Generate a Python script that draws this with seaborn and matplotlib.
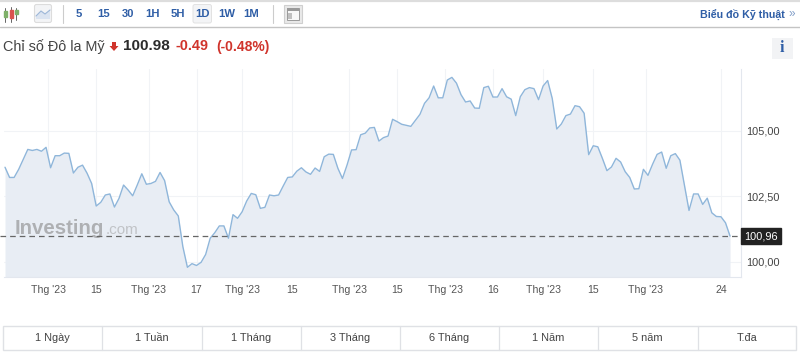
import matplotlib
matplotlib.use('Agg')
import pandas as pd
import seaborn as sns
import matplotlib.pyplot as plt
from matplotlib.patches import Rectangle, Polygon, FancyBboxPatch

# gia tri doc tu hinh
values = [
    103.60, 103.21, 103.21, 103.52, 103.90, 104.28, 104.24, 104.28, 104.21, 104.36,
    103.58, 104.04, 104.04, 104.14, 104.13, 103.38, 103.60, 103.68, 103.37, 102.98,
    102.12, 102.26, 102.54, 102.58, 102.08, 102.41, 102.92, 102.73, 102.51, 102.92,
    103.35, 102.95, 102.98, 103.06, 103.40, 103.09, 102.28, 101.97, 101.74, 100.57,
    99.78, 99.92, 99.85, 99.97, 100.27, 100.89, 101.10, 101.36, 101.36, 100.89,
    101.79, 101.65, 101.90, 102.31, 102.60, 102.55, 102.03, 102.07, 102.54,
    102.51, 102.54, 102.88, 103.21, 103.23, 103.45, 103.58, 103.42, 103.33, 103.57,
    103.44, 104.00, 104.10, 104.09, 103.56, 103.17, 103.68, 104.26, 104.27, 104.84,
    104.90, 105.10, 105.12, 104.60, 104.73, 104.79, 105.43, 105.34, 105.24, 105.20,
    105.16, 105.39, 105.62, 106.04, 106.25, 106.70, 106.25, 106.25, 106.93, 107.03,
    106.81, 106.37, 106.09, 106.13, 105.86, 105.85, 106.64, 106.69, 106.28, 106.28,
    106.60, 106.29, 106.20, 105.57, 106.29, 106.56, 106.64, 106.60, 106.18,
    106.70, 106.91, 106.23, 105.06, 105.25, 105.57, 105.63, 105.95, 105.91, 105.66,
    104.08, 104.42, 104.38, 103.94, 103.47, 103.61, 103.94, 103.80, 103.43, 103.21,
    102.77, 102.78, 103.52, 103.29, 103.71, 104.09, 104.18, 103.56, 104.04, 104.12,
    103.87, 102.92, 101.95, 102.58, 102.58, 102.18, 102.42, 101.86, 101.72, 101.71,
    101.48, 100.97,
]
last_price = 100.97
x_tick_pos = [9.5, 20, 31.5, 42, 52, 63, 75.5, 86, 96.5, 107, 118, 129, 140.5, 157]
x_tick_labels = ["Thg '23", '15', "Thg '23", '17', "Thg '23", '15', "Thg '23", '15',
                 "Thg '23", '16', "Thg '23", '15', "Thg '23", '24']
y_ticks = [100, 102.5, 105]
y_tick_labels = ['100,00', '102,50', '105,00']
intervals = ['5', '15', '30', '1H', '5H', '1D', '1W', '1M']
ranges = ['1 Ngày', '1 Tuần', '1 Tháng', '3 Tháng', '6 Tháng', '1 Năm', '5 năm', 'T.đa']

BLUE = '#2f5ea6'
GRID = '#f1f3f6'
TEXT = '#333333'
RED = '#d0342c'

sns.set_theme(style='white')
plt.rcParams['font.family'] = ['Liberation Sans', 'DejaVu Sans']

df = pd.DataFrame({'i': range(len(values)), 'price': values})

fig = plt.figure(figsize=(8, 3.54), dpi=100, facecolor='white')
ax = fig.add_axes([4 / 800, 1 - 277 / 354, 737 / 800, 208 / 354])
ax.set_xlim(-0.22, 161.4)
ax.set_ylim(99.41, 107.35)

ax.fill_between(df['i'], df['price'], 99.41, color='#e8edf4', lw=0, zorder=1)
sns.lineplot(data=df, x='i', y='price', ax=ax, color='#8fb6da', lw=1.0, zorder=3)

ax.set_xticks(x_tick_pos, x_tick_labels)
ax.yaxis.tick_right()
ax.set_yticks(y_ticks, y_tick_labels)
ax.set_xlabel('')
ax.set_ylabel('')
ax.grid(True, color=GRID, lw=0.8, zorder=0)
ax.set_axisbelow(True)
ax.tick_params(axis='x', length=2, width=0.7, color='#d8dde6', labelsize=7.6,
               labelcolor='#555555', pad=3.5)
ax.tick_params(axis='y', length=0, labelsize=7.9, labelcolor='#444444', pad=4)
for side in ['top', 'left']:
    ax.spines[side].set_visible(False)
for side in ['bottom', 'right']:
    ax.spines[side].set_color('#e3e7ee')
    ax.spines[side].set_linewidth(0.8)

# watermark
ax.text(0.0145, 0.235, 'Investing', transform=ax.transAxes, fontsize=14.7, fontweight='bold',
        color='#8b8b8b', alpha=0.62, va='center', zorder=4)
ax.text(0.1375, 0.225, '.com', transform=ax.transAxes, fontsize=11,
        color='#9a9a9a', alpha=0.5, va='center', zorder=4)

# khung giao dien, toa do pixel
ui = fig.add_axes([0, 0, 1, 1], facecolor='none', zorder=5)
ui.set_xlim(0, 800)
ui.set_ylim(354, 0)
ui.axis('off')

ui.plot([0, 741], [236, 236], color='#666666', lw=0.9, dashes=(4.5, 3.2), zorder=5)
ui.add_patch(Rectangle((741, 228), 40, 16, color='#222222', zorder=6))
ui.text(761, 236.3, '100,96', color='white', fontsize=7.9, ha='center', va='center', zorder=7)

# thanh cong cu
ui.plot([0, 800], [0.5, 0.5], color='#dddddd', lw=1.6)
ui.plot([0, 800], [27, 27], color='#c4c4c4', lw=1.0)
for x, col, top, bot, y0, y1 in [(5, '#7fb069', 8, 22, 11, 17), (11, '#d9534f', 7, 22, 10, 18),
                                 (16, '#7fb069', 8, 20, 10, 14)]:
    ui.plot([x, x], [top, bot], color='#666666', lw=0.7)
    ui.add_patch(Rectangle((x - 1.5, y0), 3, y1 - y0, color=col, zorder=3))
ui.add_patch(FancyBboxPatch((34.5, 4.5), 17, 18, boxstyle='round,pad=0,rounding_size=2',
                            fc='#f3f4f6', ec='#dcdcdc', lw=0.8))
ui.add_patch(Polygon([(36, 16), (41, 11), (45, 14), (50, 10), (50, 19), (36, 19)],
                     fc='#dbe4f1', ec='none', zorder=3))
ui.plot([36, 41, 45, 50], [16, 11, 14, 10], color='#9db7d8', lw=0.8, zorder=4)
ui.plot([62.5, 62.5], [5, 23], color='#cccccc', lw=0.8)
ui.plot([273, 273], [5, 23], color='#cccccc', lw=0.8)
ui.add_patch(FancyBboxPatch((193, 4.5), 18.5, 18.5, boxstyle='round,pad=0,rounding_size=2',
                            fc='#f3f4f6', ec='#e2e2e2', lw=0.7))
for label, x in zip(intervals, [79, 104, 128, 153, 178, 202, 227, 251]):
    ui.text(x, 14, label, color=BLUE, fontsize=8.1, fontweight='bold', ha='center', va='center',
            zorder=4)
ui.add_patch(Rectangle((284, 5), 17.5, 18, fc='#e9e9e9', ec='#cfcfcf', lw=0.8))
ui.add_patch(Rectangle((287, 8), 11.5, 12, fc='#f8f8f8', ec='#9a9a9a', lw=0.7, zorder=3))
ui.add_patch(Rectangle((287, 8), 11.5, 3, fc='#9a9a9a', ec='none', zorder=4))
ui.add_patch(Rectangle((288, 13), 4, 6, fc='#c0c0c0', ec='none', zorder=4))
ui.text(785, 14, 'Biểu đồ Kỹ thuật', color=BLUE, fontsize=7.7, fontweight='bold',
        ha='right', va='center')
ui.text(792, 14, '»', color='#7f9cc7', fontsize=8.5, ha='center', va='center')

# tieu de
ui.text(3, 46.5, 'Chỉ số Đô la Mỹ', color='#444444', fontsize=10.4, va='center')
ui.add_patch(Polygon([(112, 42), (116, 42), (116, 46), (118.5, 46), (114, 51), (109.5, 46), (112, 46)],
                     fc=RED, ec='none'))
ui.text(123, 46.5, '100.98', color='#2b2b2b', fontsize=11, fontweight='bold', va='center')
ui.text(176, 46.5, '-0.49', color=RED, fontsize=10.4, fontweight='bold', va='center')
ui.text(216, 46.5, '(-0.48%)', color=RED, fontsize=10, fontweight='bold', va='center')
ui.add_patch(Rectangle((772, 38), 21, 21, fc='#f2f3f5', ec='none'))
ui.text(782, 48.5, 'i', color=BLUE, fontsize=11.5, fontweight='bold', family='Liberation Serif',
        ha='center', va='center')

# nut khoang thoi gian
ui.add_patch(Rectangle((2.5, 326), 793.5, 23.5, fc='white', ec='#dfe1e5', lw=1.0))
edges = [2.5, 101.5, 201.5, 300.5, 399.5, 499, 598, 697.5, 796]
for e in edges[1:-1]:
    ui.plot([e, e], [326, 349.5], color='#dfe1e5', lw=0.9)
for label, a, b in zip(ranges, edges[:-1], edges[1:]):
    ui.text((a + b) / 2, 337.8, label, color='#444444', fontsize=7.9, ha='center', va='center')

fig.savefig('out.png', dpi=100)
